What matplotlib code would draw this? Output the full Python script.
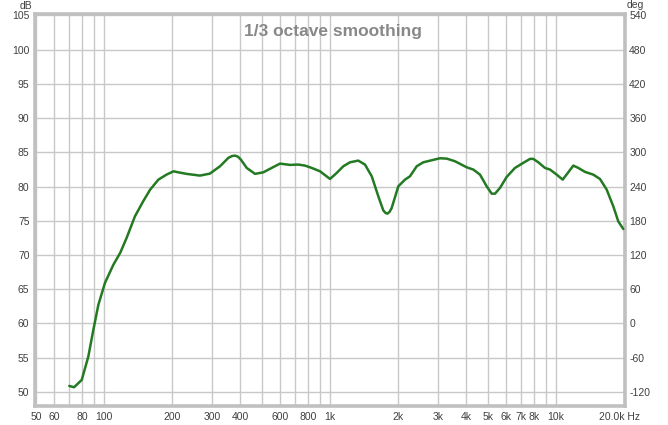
import matplotlib
matplotlib.use("Agg")
import matplotlib.pyplot as plt
import matplotlib.transforms as mtransforms
from matplotlib.ticker import FixedLocator, NullLocator

# Data (frequency Hz, SPL dB)
freq = [70.2, 73.7, 79.7, 85.2, 89.7, 94.4, 101, 110, 118, 126, 137, 149, 160, 174, 189,
        203, 213, 232, 266, 294, 326, 355, 368, 380, 392, 404, 428, 466, 507, 552, 601, 665, 724,
        775, 830, 903, 1000, 1071, 1145, 1226, 1334, 1428, 1530, 1636, 1721, 1760, 1793, 1835, 1875,
        2005, 2147, 2259, 2419, 2587, 2818, 3067, 3284, 3574, 4026, 4306, 4610, 4935,
        5194, 5372, 5652, 6052, 6585, 7167, 7674, 7935, 8350, 8940, 9408, 10073, 10706,
        11220, 11928, 12555, 13441, 14622, 15655, 16763, 17929, 18866, 19855]
spl = [50.88, 50.69, 51.76, 55.16, 59.07, 62.73, 65.94, 68.58, 70.33, 72.53, 75.64, 77.84,
       79.55, 81.01, 81.74, 82.23, 82.08, 81.85, 81.6, 81.89, 82.96, 84.19, 84.45, 84.52, 84.35, 83.9,
       82.72, 81.85, 82.08, 82.72, 83.35, 83.16, 83.21, 83.06, 82.72, 82.23, 81.11, 81.99,
       82.96, 83.54, 83.79, 83.21, 81.5, 78.57, 76.52, 76.15, 76.04, 76.3, 76.87, 80.03, 81.01, 81.5,
       82.96, 83.54, 83.84, 84.13, 84.08, 83.69, 82.81, 82.48, 81.74, 80.03, 78.96, 78.96,
       79.8, 81.41, 82.72, 83.46, 84.04, 84.04, 83.54, 82.72, 82.48, 81.74, 81.01, 81.89,
       83.06, 82.72, 82.14, 81.74, 81.11, 79.55, 77.11, 74.91, 73.8]

x_grid = [50, 60, 70, 80, 90, 100, 200, 300, 400, 500, 600, 700, 800, 900, 1000,
          2000, 3000, 4000, 5000, 6000, 7000, 8000, 9000, 10000, 20000]
x_labels = ["50", "60", "", "80", "", "100", "200", "300", "400", "", "600", "", "800", "", "1k",
            "2k", "3k", "4k", "5k", "6k", "7k", "8k", "", "10k", "20.0k Hz"]
db_ticks = [50, 55, 60, 65, 70, 75, 80, 85, 90, 95, 100, 105]
deg_ticks = [-120, -60, 0, 60, 120, 180, 240, 300, 360, 420, 480, 540]

W, H = 668, 425
fig = plt.figure(figsize=(W / 100, H / 100), dpi=100)
fig.patch.set_facecolor("white")
L, R, T, B = 35, 625, 14, 406
ax = fig.add_axes([L / W, 1 - B / H, (R - L) / W, (B - T) / H])

ax.plot(freq, spl, color="#237a23", lw=1.8, solid_capstyle="round",
        solid_joinstyle="round", zorder=3)

ax.set_xscale("log")
ax.set_xlim(49.5, 20200)
ylo, yhi = 47.95, 105.2
ax.set_ylim(ylo, yhi)

ax.xaxis.set_major_locator(FixedLocator(x_grid))
ax.xaxis.set_minor_locator(NullLocator())
ax.set_xticklabels(x_labels)
ax.set_yticks(db_ticks)
ax.set_yticklabels([str(v) for v in db_ticks])
ax.grid(True, color="#c8c8c8", lw=1.0)
ax.set_axisbelow(True)

ax.tick_params(axis="both", length=0, colors="#404040", labelsize=7.5)
ax.tick_params(axis="x", pad=4)
ax.tick_params(axis="y", pad=4)
for lab in ax.get_xticklabels() + ax.get_yticklabels():
    lab.set_fontfamily("Liberation Sans")
last = ax.get_xticklabels()[-1]
last.set_transform(last.get_transform() +
                   mtransforms.ScaledTranslation(-5 / 100, 0, fig.dpi_scale_trans))

for s in ax.spines.values():
    s.set_color("#c0c0c0")
    s.set_linewidth(2.6)

ax2 = ax.twinx()
ax2.set_ylim((ylo - 50) * 12 - 120, (yhi - 50) * 12 - 120)
ax2.set_yticks(deg_ticks)
ax2.set_yticklabels([str(v) for v in deg_ticks])
ax2.tick_params(axis="y", length=0, colors="#404040", labelsize=7.5, pad=3)
for lab in ax2.get_yticklabels():
    lab.set_fontfamily("Liberation Sans")
for s in ax2.spines.values():
    s.set_visible(False)

fig.text(26 / W, 1 - 6 / H, "dB", ha="center", va="center", fontsize=7.5,
         color="#404040", family="Liberation Sans")
fig.text(627 / W, 1 - 5 / H, "deg", ha="left", va="center", fontsize=7.5,
         color="#404040", family="Liberation Sans")

ax.text(0.505, 0.975, "1/3 octave smoothing", transform=ax.transAxes, ha="center",
        va="top", fontsize=12.5, fontweight="bold", color="#888888",
        family="Liberation Sans", zorder=4)

fig.savefig("out.png", dpi=100, facecolor="white")
